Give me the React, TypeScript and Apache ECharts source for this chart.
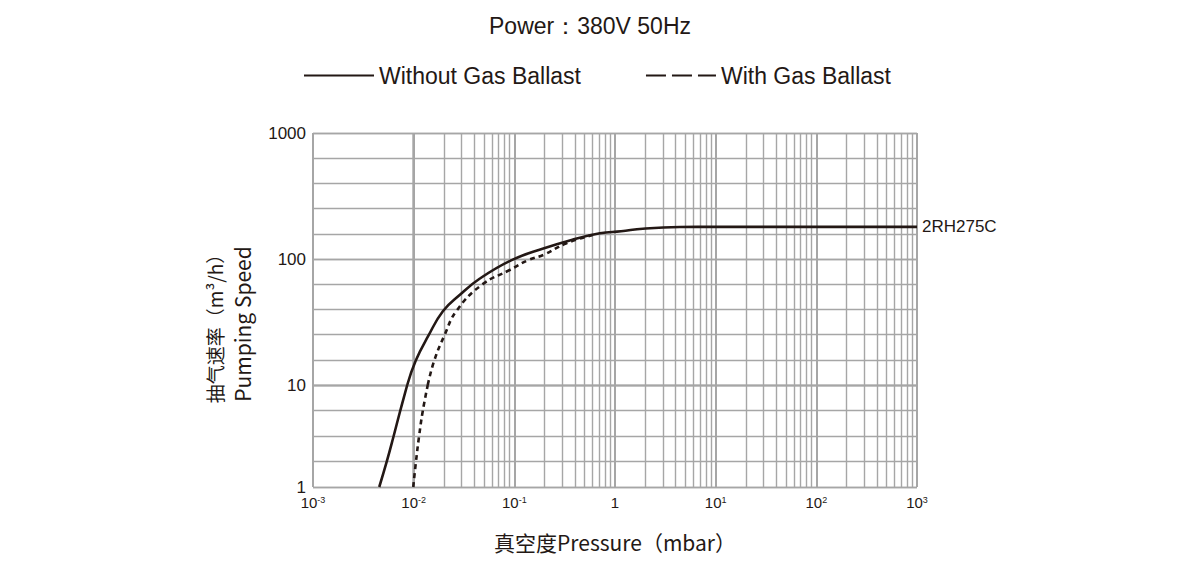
import React, { useEffect, useRef } from 'react';
import * as echarts from 'echarts';

// Pressure (mbar) / pumping speed (m³/h)
const solidLowX = [4.55e-3, 5.4e-3, 6.3e-3, 7.31e-3, 8.63e-3];
const solidLowY = [1, 1.77, 3.11, 5.47, 10];
const solidHighX = [8.63e-3, 1.047e-2, 1.396e-2, 1.95e-2, 2.88e-2, 4.55e-2, 9.4e-2, 0.194, 0.37, 0.708, 1.15, 1.89, 4.4, 10, 100, 1000];
const solidHighY = [10, 15.6, 24.5, 38.5, 52, 70, 98, 121, 141.6, 160, 166, 174, 179.5, 180, 180, 180];
const dashLowX = [9.9e-3, 1.054e-2, 1.13e-2, 1.228e-2, 1.38e-2];
const dashLowY = [1, 1.77, 3.11, 5.47, 10];
const dashHighX = [1.38e-2, 1.6e-2, 2.01e-2, 2.67e-2, 4.73e-2, 9.0e-2, 0.1374, 0.194, 0.33, 0.6];
const dashHighY = [10, 15.6, 24.5, 38.9, 62.2, 81.8, 98, 107.7, 133.4, 155];

// grid values
const xDecades = [1e-3, 1e-2, 1e-1, 1, 10, 100];
const xMantissas = [2, 3, 4, 5, 6, 7, 8, 9];
const minorXTicks = xDecades.flatMap((d) => xMantissas.map((m) => m * d));

const titleText = 'Power：380V 50Hz';
const seriesNames = ['Without Gas Ballast', 'With Gas Ballast'];
const modelName = '2RH275C';
const xName = '真空度Pressure（mbar）';
const yNameCn = '抽气速率（m³/h）';
const yNameEn = 'Pumping Speed';

const INK = '#231815';
const GRID = '#a6a6a6';
const LATIN = '"Liberation Sans", Arial, sans-serif';
const CJK = '"Noto Sans CJK SC", "Noto Sans", sans-serif';

const zip = (xs: number[], ys: number[]) => xs.map((x, i) => [x, ys[i]]);

export default function App() {
  const ref = useRef<HTMLDivElement>(null);
  useEffect(() => {
    if (!ref.current) return;
    const chart = echarts.init(ref.current, undefined, { renderer: 'svg' });
    const gridLeft = 313;
    const plotW = 604;
    const splitMajor = { show: true, lineStyle: { color: GRID, width: 2 } };
    const splitMinor = { show: true, lineStyle: { color: GRID, width: 1.4 } };
    const minorMark = {
      silent: true,
      symbol: ['none', 'none'],
      label: { show: false },
      z: 1,
      lineStyle: { color: GRID, width: 1.4, type: 'solid' },
      data: minorXTicks.map((v) => ({ xAxis: v })),
      animation: false,
    };
    const xLabelFmt = (v: number) => {
      const e = Math.round(Math.log10(v));
      return e === 0 ? '1' : `10{sup|${e}}`;
    };
    const yLabelFmt = (v: number) => String(v);
    const solidLine = { color: INK, width: 2.6 };
    const dashLine = { color: INK, width: 2.6, type: [5, 4] };
    const smooth = 0.45;
    chart.setOption({
      animation: false,
      title: {
        text: titleText,
        left: 484,
        top: 9,
        textStyle: { fontFamily: LATIN, fontSize: 23, fontWeight: 'normal', color: INK },
      },
      legend: {
        left: 303,
        top: 64,
        padding: 0,
        itemWidth: 70,
        itemHeight: 14,
        itemGap: 64,
        itemStyle: { opacity: 0, borderWidth: 0 },
        textStyle: { fontFamily: LATIN, fontSize: 23, color: INK },
        data: [
          { name: seriesNames[0] },
          { name: seriesNames[1], lineStyle: { type: [20, 6] } },
        ],
        selectedMode: false,
      },
      grid: [
        { left: gridLeft, top: 133, width: plotW, height: 252 },
        { left: gridLeft, top: 385, width: plotW, height: 102 },
      ],
      xAxis: [
        {
          type: 'log', gridIndex: 0, min: 1e-3, max: 1e3, splitNumber: 6,
          axisLabel: { show: false }, axisTick: { show: false }, axisLine: { show: false },
          splitLine: splitMajor,
        },
        {
          type: 'log', gridIndex: 1, min: 1e-3, max: 1e3, splitNumber: 6,
          axisTick: { show: false }, axisLine: { show: false },
          splitLine: splitMajor,
          axisLabel: {
            formatter: xLabelFmt,
            margin: 8,
            color: INK,
            fontFamily: LATIN,
            fontSize: 15,
            rich: {
              sup: { fontSize: 9, lineHeight: 9, verticalAlign: 'top', color: INK, fontFamily: LATIN },
            },
          },
          name: xName,
          nameLocation: 'middle',
          nameGap: 44,
          nameTextStyle: { fontFamily: CJK, fontSize: 21, color: INK },
        },
      ],
      yAxis: [
        {
          type: 'log', gridIndex: 0, min: 10, max: 1000, splitNumber: 2,
          axisTick: { show: false }, axisLine: { show: false },
          splitLine: splitMinor,
          axisLabel: { showMinLabel: false, formatter: yLabelFmt, color: INK, fontFamily: LATIN, fontSize: 17, margin: 7 },
        },
        {
          type: 'value', gridIndex: 0, min: 0, max: 10, interval: 1, position: 'left',
          axisTick: { show: false }, axisLine: { show: false }, axisLabel: { show: false },
          splitLine: splitMinor,
        },
        {
          type: 'log', gridIndex: 1, min: 1, max: 10, splitNumber: 1,
          axisTick: { show: false }, axisLine: { show: false },
          splitLine: splitMinor,
          axisLabel: { formatter: yLabelFmt, color: INK, fontFamily: LATIN, fontSize: 17, margin: 7 },
        },
        {
          type: 'value', gridIndex: 1, min: 0, max: 4, interval: 1, position: 'left',
          axisTick: { show: false }, axisLine: { show: false }, axisLabel: { show: false },
          splitLine: splitMinor,
        },
      ],
      series: [
        {
          name: seriesNames[0], type: 'line', xAxisIndex: 0, yAxisIndex: 0,
          data: zip(solidHighX, solidHighY), symbol: 'none', smooth,
          lineStyle: solidLine, itemStyle: { color: INK }, z: 4,
          endLabel: { show: true, formatter: modelName, color: INK, fontFamily: LATIN, fontSize: 17, distance: 5 },
          markLine: minorMark,
        },
        {
          name: seriesNames[0], type: 'line', xAxisIndex: 1, yAxisIndex: 2,
          data: zip(solidLowX, solidLowY), symbol: 'none', smooth,
          lineStyle: solidLine, itemStyle: { color: INK }, z: 4,
          markLine: minorMark,
        },
        {
          name: seriesNames[1], type: 'line', xAxisIndex: 0, yAxisIndex: 0,
          data: zip(dashHighX, dashHighY), symbol: 'none', smooth,
          lineStyle: dashLine, itemStyle: { color: INK }, z: 3,
        },
        {
          name: seriesNames[1], type: 'line', xAxisIndex: 1, yAxisIndex: 2,
          data: zip(dashLowX, dashLowY), symbol: 'none', smooth,
          lineStyle: dashLine, itemStyle: { color: INK }, z: 3,
        },
      ],
      graphic: [
        {
          type: 'text',
          x: 228,
          y: 324,
          rotation: Math.PI / 2,
          style: {
            text: `{cn|${yNameCn}}\n{en|${yNameEn}}`,
            align: 'center',
            verticalAlign: 'middle',
            fill: INK,
            rich: {
              cn: { fontFamily: CJK, fontSize: 19, lineHeight: 28, fill: INK, align: 'center' },
              en: { fontFamily: CJK, fontSize: 21, lineHeight: 28, fill: INK, align: 'center' },
            },
          },
        },
      ],
    });
    return () => chart.dispose();
  }, []);
  return (
    <div
      ref={ref}
      style={{ position: 'fixed', left: 0, top: 0, width: 1200, height: 569, background: '#fff' }}
    />
  );
}
